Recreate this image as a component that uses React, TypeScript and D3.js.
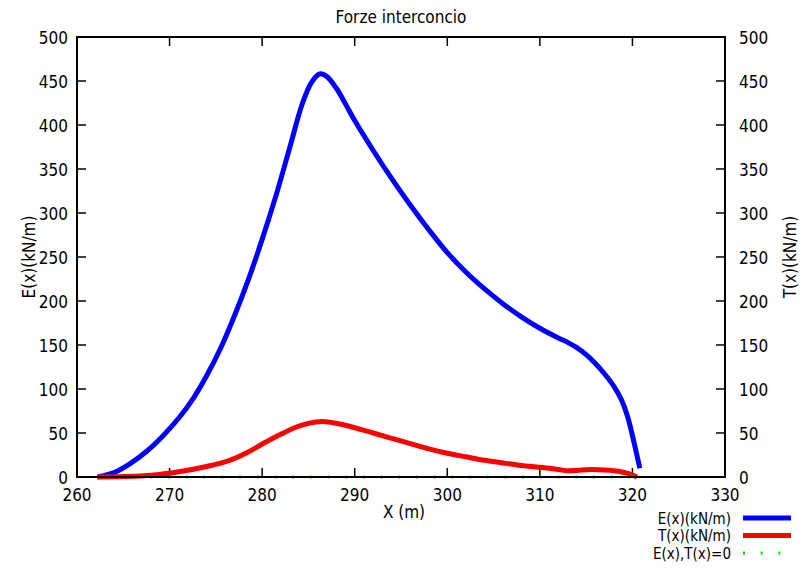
import React from "react";
import * as d3 from "d3";

const title = "Forze interconcio";
const xTicks = [260, 270, 280, 290, 300, 310, 320, 330];
const yTicks = [0, 50, 100, 150, 200, 250, 300, 350, 400, 450, 500];

const eX = [262.2, 264, 265.7, 267.5, 269.3, 271, 272.6, 274, 275.5, 277, 278.5, 280, 281.5, 283, 284.3, 285.3, 286.2, 287, 288, 289, 290, 292, 294, 296, 298, 300, 302, 304, 306, 308, 310, 312, 313, 314, 315, 316, 317, 318, 318.8, 319.5, 320.2, 320.8];
const eY = [0, 5, 15, 29, 47, 67, 90, 115, 146, 183, 224, 270, 320, 375, 423, 448, 458, 455, 442, 424, 405, 371, 339, 309, 281, 255, 233, 214, 197, 182, 169, 158, 153, 147, 139, 129, 117, 103, 88, 68, 38, 10];

const tX = [262.2, 265, 268, 271, 274, 276.5, 278.5, 280.1, 281.9, 283.5, 285, 286.5, 288, 290, 292, 294, 296, 298, 300, 302, 304, 306, 308, 310, 312, 313, 314, 315.5, 317, 318.5, 319.5, 320.5];
const tY = [0, 0.5, 2, 6, 12, 19, 28.5, 38, 48, 56, 61, 63, 61, 56, 50, 44, 38, 32, 27, 23, 19, 16, 13, 11, 8.5, 7, 7.5, 8.5, 8, 6.5, 4, 0];

const zeroX = [262.2, 320.8];
const zeroY = [0, 0];

const legendLabels = ["E(x)(kN/m)", "T(x)(kN/m)", "E(x),T(x)=0"];

const W = 808, H = 568;
const L = 77, R = 725, T = 37, B = 477;
const FONT = "'DejaVu Sans Condensed', 'DejaVu Sans', sans-serif";
const FS = 17;

export default function App() {
  const x = d3.scaleLinear().domain([260, 330]).range([L, R]);
  const y = d3.scaleLinear().domain([0, 500]).range([B, T]);
  const line = d3.line<[number, number]>().x(d => x(d[0])).y(d => y(d[1])).curve(d3.curveCatmullRom.alpha(0.5));
  const eData = eX.map((v, i) => [v, eY[i]] as [number, number]);
  const tData = tX.map((v, i) => [v, tY[i]] as [number, number]);
  const zData = zeroX.map((v, i) => [v, zeroY[i]] as [number, number]);
  const lin = d3.line<[number, number]>().x(d => x(d[0])).y(d => y(d[1]));
  const tick = 9;
  const colors = ["#0000ff", "#ff0000", "#00ee00"];
  return (
    <svg width={W} height={H} style={{ position: "absolute", left: 0, top: 0, background: "#fff" }} fontFamily={FONT}>
      <rect width={W} height={H} fill="#fff" />
      <text x={(L + R) / 2} y={23} textAnchor="middle" fontSize={FS}>{title}</text>
      {xTicks.map(t => (
        <g key={"x" + t}>
          <line x1={x(t)} x2={x(t)} y1={B} y2={B - tick} stroke="#000" strokeWidth={1.5} />
          <line x1={x(t)} x2={x(t)} y1={T} y2={T + tick} stroke="#000" strokeWidth={1.5} />
          <text x={x(t)} y={501} textAnchor="middle" fontSize={FS}>{t}</text>
        </g>
      ))}
      {yTicks.map(t => (
        <g key={"y" + t}>
          <line x1={L} x2={L + tick} y1={y(t)} y2={y(t)} stroke="#000" strokeWidth={1.5} />
          <line x1={R} x2={R - tick} y1={y(t)} y2={y(t)} stroke="#000" strokeWidth={1.5} />
          <text x={L - 9} y={y(t) + 6.5} textAnchor="end" fontSize={FS}>{t}</text>
          <text x={R + 14} y={y(t) + 6.5} textAnchor="start" fontSize={FS}>{t}</text>
        </g>
      ))}
      <text x={(L + R) / 2 + 3} y={518} textAnchor="middle" fontSize={FS}>X (m)</text>
      <text transform={`translate(35,${(T + B) / 2}) rotate(-90)`} textAnchor="middle" fontSize={FS}>E(x)(kN/m)</text>
      <text transform={`translate(796,${(T + B) / 2}) rotate(-90)`} textAnchor="middle" fontSize={FS}>T(x)(kN/m)</text>
      <path d={lin(zData) || ""} fill="none" stroke={colors[2]} strokeWidth={3} strokeDasharray="2,15.7" />
      <path d={line(eData) || ""} fill="none" stroke={colors[0]} strokeWidth={5} strokeLinejoin="round" />
      <path d={line(tData) || ""} fill="none" stroke={colors[1]} strokeWidth={5} strokeLinejoin="round" />
      <rect x={L} y={T} width={R - L} height={B - T} fill="none" stroke="#000" strokeWidth={2} />
      {legendLabels.map((lab, i) => {
        const cy = 518 + i * 17.5;
        return (
          <g key={lab}>
            <text x={731} y={cy + 5.5} textAnchor="end" fontSize={15}>{lab}</text>
            {i < 2 ? (
              <line x1={743} x2={791} y1={cy} y2={cy} stroke={colors[i]} strokeWidth={5} />
            ) : (
              <line x1={743} x2={791} y1={cy} y2={cy} stroke={colors[i]} strokeWidth={3} strokeDasharray="2,15.7" />
            )}
          </g>
        );
      })}
    </svg>
  );
}
